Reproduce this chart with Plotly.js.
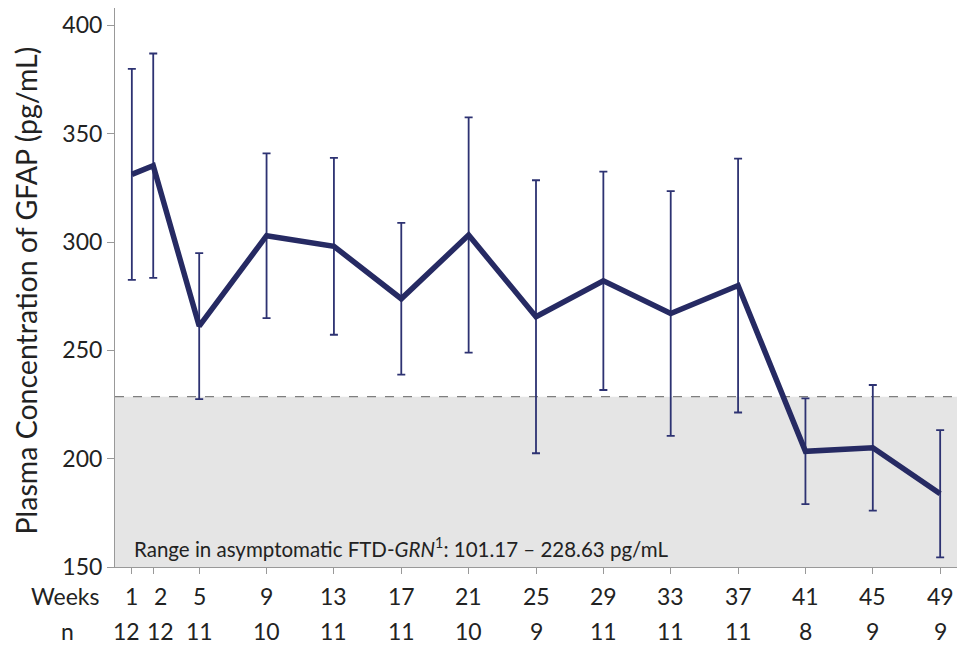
<!DOCTYPE html>
<html>
<head>
<meta charset="utf-8">
<script src="https://cdn.plot.ly/plotly-3.0.1.min.js"></script>
<style>
  html, body { margin: 0; padding: 0; background: #ffffff; }
  #chart { width: 960px; height: 645px; }
</style>
</head>
<body>
<div id="chart"></div>
<script>
// Visit labels (study week), their timing on the week axis, and patients sampled
const weekLabels = ['1', '2', '5', '9', '13', '17', '21', '25', '29', '33', '37', '41', '45', '49'];
const visitTime = [1, 2.27, 5, 9, 13, 17, 21, 25, 29, 33, 37, 41, 45, 49];
const nPatients = [12, 12, 11, 10, 11, 11, 10, 9, 11, 11, 11, 8, 9, 9];

// Plasma GFAP (pg/mL): mean and error-bar half-length per visit
const gfapMean = [331.2, 335.2, 261.2, 302.9, 298.0, 273.8, 303.2, 265.5, 282.1, 267.0, 279.9, 203.4, 205.0, 183.8];
const gfapErr = [48.7, 51.8, 33.7, 38.0, 40.8, 35.0, 54.3, 63.0, 50.4, 56.5, 58.6, 24.4, 29.0, 29.4];

// Reference range in asymptomatic FTD-GRN carriers (pg/mL)
const refRange = [101.17, 228.63];

const yTicks = [150, 200, 250, 300, 350, 400];

const FONT = 'Lato, "Open Sans", sans-serif';
const TEXT = '#222222';
const NAVY = '#262a63';
const AXIS_GREY = '#999999';

const trace = {
  x: visitTime,
  y: gfapMean,
  type: 'scatter',
  mode: 'lines',
  line: { color: NAVY, width: 5.5 },
  error_y: {
    type: 'data',
    array: gfapErr,
    visible: true,
    color: '#2d3272',
    thickness: 1.8,
    width: 4
  },
  hoverinfo: 'x+y'
};

// The first two visits sit close together, so spread their labels apart a little
function weekNudge(i) { return i === 1 ? 7 : 0; }
function countNudge(i) { return i === 0 ? -5 : (i === 1 ? 7 : 0); }

const rowFont = { family: FONT, size: 23, color: TEXT };
const WEEK_ROW = -29;   // px below the x axis
const COUNT_ROW = -64;  // px below the x axis

const annotations = [
  {
    // y-axis title, drawn rotated beside the tick labels
    xref: 'paper', yref: 'paper', x: 0, y: 0.5,
    xanchor: 'center', yanchor: 'middle',
    xshift: -90, yshift: -3,
    textangle: -90,
    text: 'Plasma Concentration of GFAP (pg/mL)', showarrow: false,
    font: { family: FONT, size: 28.5, color: TEXT }
  },
  {
    xref: 'paper', yref: 'paper', x: 0, y: 0,
    xanchor: 'right', yanchor: 'middle',
    xshift: -14, yshift: WEEK_ROW,
    text: 'Weeks', showarrow: false,
    font: rowFont
  },
  {
    xref: 'paper', yref: 'paper', x: 0, y: 0,
    xanchor: 'center', yanchor: 'middle',
    xshift: -48, yshift: COUNT_ROW,
    text: 'n', showarrow: false,
    font: rowFont
  },
  {
    xref: 'x', yref: 'y', x: 1, y: 158.8,
    xanchor: 'left', yanchor: 'middle',
    text: 'Range in asymptomatic FTD-<i>GRN</i><sup>1</sup>: ' +
          refRange[0].toFixed(2) + ' \u2013 ' + refRange[1].toFixed(2) + ' pg/mL',
    showarrow: false,
    font: { family: FONT, size: 20.5, color: TEXT }
  }
];

// Week number and patient count under each visit
visitTime.forEach((t, i) => {
  annotations.push({
    xref: 'x', yref: 'paper', x: t, y: 0,
    xanchor: 'center', yanchor: 'middle',
    xshift: weekNudge(i), yshift: WEEK_ROW,
    text: weekLabels[i], showarrow: false,
    font: rowFont
  });
  annotations.push({
    xref: 'x', yref: 'paper', x: t, y: 0,
    xanchor: 'center', yanchor: 'middle',
    xshift: countNudge(i), yshift: COUNT_ROW,
    text: String(nPatients[i]), showarrow: false,
    font: rowFont
  });
});

const layout = {
  width: 960,
  height: 645,
  margin: { l: 115, r: 3, t: 8, b: 78 },
  paper_bgcolor: '#ffffff',
  plot_bgcolor: '#ffffff',
  showlegend: false,
  font: { family: FONT, color: TEXT },
  xaxis: {
    range: [0, 50],
    tickmode: 'array',
    tickvals: visitTime,
    showticklabels: false,
    ticks: 'outside',
    ticklen: 6,
    tickwidth: 1,
    tickcolor: AXIS_GREY,
    showline: true,
    linecolor: AXIS_GREY,
    linewidth: 1,
    showgrid: false,
    zeroline: false,
    fixedrange: true
  },
  yaxis: {
    range: [150, 408],
    tickmode: 'array',
    tickvals: yTicks,
    ticks: 'outside',
    ticklen: 7,
    tickwidth: 1,
    tickcolor: AXIS_GREY,
    tickfont: { family: FONT, size: 23, color: TEXT },
    showline: true,
    linecolor: AXIS_GREY,
    linewidth: 1,
    showgrid: false,
    zeroline: false,
    fixedrange: true
  },
  shapes: [
    {
      type: 'rect', layer: 'below',
      xref: 'paper', yref: 'y',
      x0: 0, x1: 1, y0: 150, y1: refRange[1],
      fillcolor: '#e5e5e5', line: { width: 0 }
    },
    {
      type: 'line', layer: 'below',
      xref: 'paper', yref: 'y',
      x0: 0, x1: 1, y0: refRange[1], y1: refRange[1],
      line: { color: '#7f7f7f', width: 1.3, dash: 'dash' }
    }
  ],
  annotations: annotations
};

Plotly.newPlot('chart', [trace], layout, { displayModeBar: false, staticPlot: true });
</script>
</body>
</html>
